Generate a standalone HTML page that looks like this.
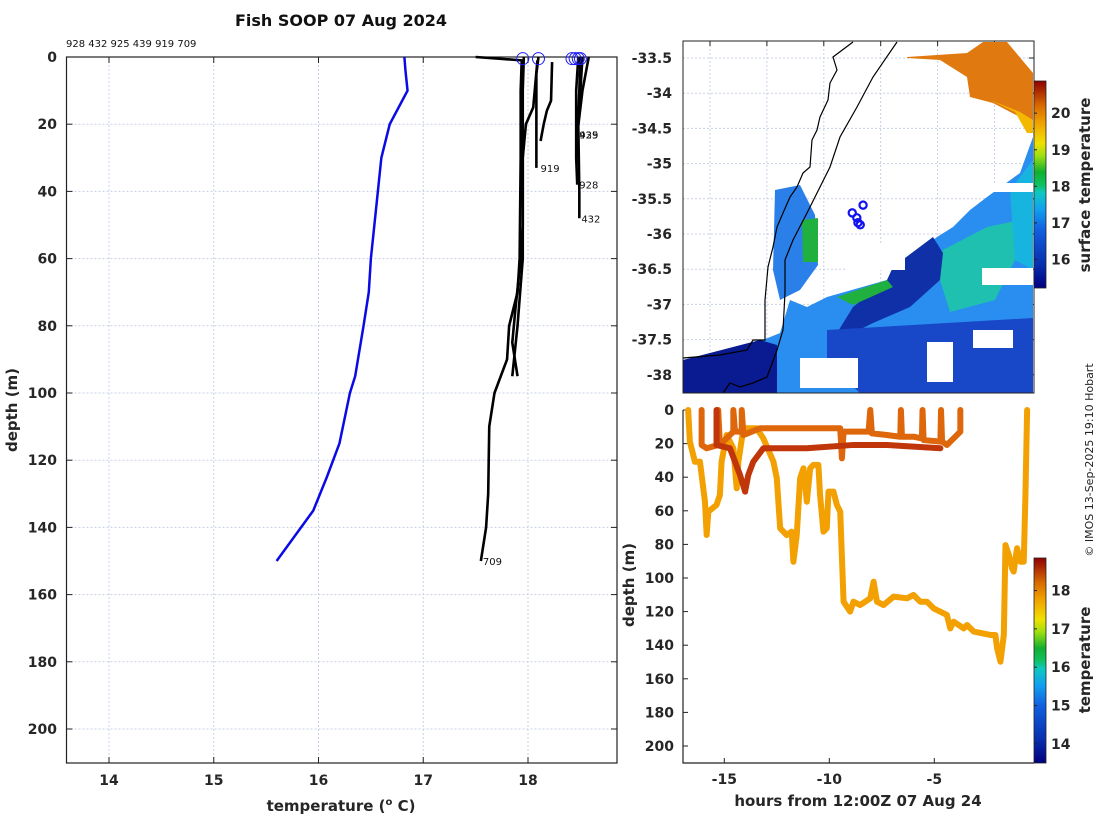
<!DOCTYPE html>
<html><head><meta charset="utf-8"><style>
body{margin:0;background:#fff;}
svg{display:block;font-family:"DejaVu Sans","Liberation Sans",sans-serif;}
.tk{font-size:14px;font-weight:bold;fill:#262626;}
.lb{font-size:15px;font-weight:bold;fill:#262626;}
.gr{stroke:#c8d0e8;stroke-width:1;stroke-dasharray:2,2;}
</style></head><body>
<svg id="fig" width="1100" height="820" viewBox="0 0 1100 820" xmlns="http://www.w3.org/2000/svg">
<defs>
<linearGradient id="jet1" x1="0" y1="1" x2="0" y2="0">
<stop offset="0" stop-color="#00007f"/><stop offset="0.12" stop-color="#0830b0"/><stop offset="0.28" stop-color="#1060e0"/><stop offset="0.38" stop-color="#10a0f0"/><stop offset="0.46" stop-color="#10c8c0"/><stop offset="0.5" stop-color="#10c060"/><stop offset="0.56" stop-color="#10b030"/><stop offset="0.64" stop-color="#a0e010"/><stop offset="0.7" stop-color="#f0e000"/><stop offset="0.8" stop-color="#f0a000"/><stop offset="0.88" stop-color="#d86a00"/><stop offset="1" stop-color="#900000"/>
</linearGradient>
</defs>
<text x="341" y="26" text-anchor="middle" font-size="16" font-weight="bold" fill="#111">Fish SOOP 07 Aug 2024</text>
<text x="66" y="47" font-size="10" fill="#111">928 432 925 439 919 709</text>
<g id="left"></g>
<g id="map"></g>
<g id="bot"></g>
<text transform="translate(1093,460) rotate(-90)" text-anchor="middle" font-size="11" fill="#222">© IMOS 13-Sep-2025 19:10 Hobart</text>
</svg>
<script>
// ---------- data: left profile plot ----------
const xTicksL = [14,15,16,17,18];
const yTicksL = [0,20,40,60,80,100,120,140,160,180,200];
const climTemp = [16.82,16.83,16.85,16.68,16.6,16.55,16.5,16.48,16.43,16.35,16.3,16.2,16.08,15.95,15.6];
const climDepth = [0,4,10,20,30,45,60,70,80,95,100,115,125,135,150];
const p709T = [17.5,17.94,17.93,17.93,17.92,17.9,17.82,17.8,17.68,17.63,17.62,17.6,17.55];
const p709D = [0,1,10,30,60,70,80,90,100,110,130,140,150];
const paT = [17.96,17.95,17.95,17.93,17.88,17.85,17.9];
const paD = [0,10,50,60,75,85,95];
const pbT = [18.09,18.05,17.98,17.95,17.95,17.9,17.85];
const pbD = [1,15,20,30,60,80,95];
const p919T = [18.1,18.08,18.08];
const p919D = [0,5,33];
const pcT = [18.23,18.22,18.18,18.15,18.12];
const pcD = [1.5,13,16,20,25];
const p928T = [18.48,18.46,18.46,18.47];
const p928D = [0,10,30,38];
const p432T = [18.5,18.48,18.49,18.49];
const p432D = [0,20,40,48];
const p439T = [18.52,18.5,18.48,18.47];
const p439D = [0,10,20,23];
const p925T = [18.58,18.52,18.47];
const p925D = [0,10,23];
const surfT = [17.95,18.1,18.42,18.45,18.48,18.5];
const profLabels = ['709','919','928','432','439','925'];
const profLabelT = [17.55,18.1,18.47,18.49,18.47,18.47];
const profLabelD = [150,33,38,48,23,23];

// ---------- data: map ----------
const lonTicks = [149,150,151,152,153,154];
const latTicks = [-33.5,-34,-34.5,-35,-35.5,-36,-36.5,-37,-37.5,-38];
const stationLon = [151.50,151.58,151.60,151.64,151.69];
const stationLat = [-35.70,-35.77,-35.84,-35.87,-35.59];
const sstTicks = [16,17,18,19,20];

// ---------- data: depth-time plot ----------
const hTicks = [-15,-10,-5];
const dTicks = [0,20,40,60,80,100,120,140,160,180,200];
const trATemp = 17.6;
const trAH = [-16.72,-16.64,-16.40,-16.16,-15.92,-15.84,-15.76,-15.37,-15.21,-15.13,-14.89,-14.57,-14.41,-14.33,-14.09,-13.46,-13.14,-12.66,-12.50,-12.34,-12.03,-11.79,-11.71,-11.55,-11.39,-11.23,-11.07,-10.91,-10.76,-10.52,-10.44,-10.28,-10.12,-10.04,-9.80,-9.64,-9.48,-9.32,-9.01,-8.85,-8.53,-8.05,-7.89,-7.73,-7.42,-6.94,-6.30,-5.99,-5.67,-5.35,-5.03,-4.40,-4.24,-4.08,-3.60,-3.44,-3.12,-2.33,-2.09,-2.01,-1.85,-1.69,-1.61,-1.45,-1.30,-1.22,-1.06,-0.90,-0.74,-0.66,-0.58];
const trAD = [0,18.8,30.8,30.8,54.6,74.4,60.5,56.5,50.6,30.8,14.9,22.8,46.6,30.8,10.9,10.9,16.9,30.8,40.7,70.4,74.4,72.4,90.3,74.4,40.7,34.7,54.6,34.7,32.7,32.7,50.6,72.4,70.4,48.6,48.6,56.5,60.5,114.1,120.0,114.1,116.1,112.1,102.2,114.1,116.1,111.1,112.1,110.1,114.1,114.1,118.1,122.0,130.0,126.0,130.0,128.0,131.9,133.9,133.9,141.9,149.8,133.9,80.4,86.3,94.2,96.2,82.3,90.3,90.3,50.6,0];
const trBTemp = 18.1;
const trBH = [-16.08,-16.08,-15.84,-15.29,-15.29,-15.21,-14.57,-14.57,-14.49,-14.17,-14.17,-14.09,-13.30,-11.71,-10.44,-9.48,-9.40,-9.32,-8.85,-8.13,-8.05,-7.97,-7.26,-6.62,-6.59,-6.54,-5.99,-5.59,-5.56,-5.51,-4.71,-4.68,-4.63,-4.40,-4.08,-3.76,-3.76];
const trBD = [0,20.8,22.8,20.8,0,20.8,12.9,0,12.9,12.9,0,14.9,10.9,10.9,10.9,10.9,28.8,12.9,12.9,12.9,0,13.9,14.9,15.9,0,15.9,15.9,16.9,0,17.9,18.8,0,18.8,20.8,16.9,12.9,0];
const trCTemp = 18.45;
const trCH = [-15.37,-15.37,-14.73,-14.25,-14.01,-13.86,-13.62,-13.14,-12.34,-11.07,-8.85,-7.26,-4.71];
const trCD = [0,20.8,22.8,38.7,48.6,38.7,30.8,22.8,22.8,22.8,20.8,20.8,22.8];
const tTicks = [14,15,16,17,18];

const NS='http://www.w3.org/2000/svg';
function mk(tag, attrs, parent){const e=document.createElementNS(NS,tag);for(const k in attrs)e.setAttribute(k,attrs[k]);parent.appendChild(e);return e;}

// ===== left plot =====
const L=document.getElementById('left');
const LX0=66.5,LX1=617,LY0=57,LY1=763;
const lx=t=>109+(t-14)*104.75, ly=d=>57+d*3.36;
xTicksL.forEach(t=>{const g=mk('line',{x1:lx(t),x2:lx(t),y1:LY0,y2:LY1,class:'gr'},L);


const tx=mk('text',{x:lx(t),y:785,'text-anchor':'middle',class:'tk'},L);tx.textContent=t;


mk('line',{x1:lx(t),x2:lx(t),y1:LY1,y2:LY1-6,stroke:'#222'},L);mk('line',{x1:lx(t),x2:lx(t),y1:LY0,y2:LY0+6,stroke:'#222'},L);});
yTicksL.forEach(d=>{const g=mk('line',{x1:LX0,x2:LX1,y1:ly(d),y2:ly(d),class:'gr'},L);


const tx=mk('text',{x:57,y:ly(d)+5,'text-anchor':'end',class:'tk'},L);tx.textContent=d;


mk('line',{x1:LX0,x2:LX0+6,y1:ly(d),y2:ly(d),stroke:'#222'},L);mk('line',{x1:LX1,x2:LX1-6,y1:ly(d),y2:ly(d),stroke:'#222'},L);});
const lbox=mk('rect',{x:LX0,y:LY0,width:LX1-LX0,height:LY1-LY0,fill:'none',stroke:'#222','stroke-width':1.2},L);


function line(T,D,fx,fy,par,attrs){return mk('polyline',Object.assign({points:T.map((t,i)=>fx(t)+','+fy(D[i])).join(' '),fill:'none'},attrs),par);}
const clim=line(climTemp,climDepth,lx,ly,L,{stroke:'#0a0ae6','stroke-width':2.5});


[[p709T,p709D],[paT,paD],[pbT,pbD],[p919T,p919D],[pcT,pcD],[p928T,p928D],[p432T,p432D],[p439T,p439D],[p925T,p925D]].forEach(p=>{
const e=line(p[0],p[1],lx,ly,L,{stroke:'#000','stroke-width':2.6,'stroke-linejoin':'round'});

});
surfT.forEach(t=>{const c=mk('circle',{cx:lx(t),cy:ly(0.5),r:6,fill:'none',stroke:'#1a1aff','stroke-width':1},L);

});
profLabels.forEach((s,i)=>{const tx=mk('text',{x:lx(profLabelT[i])+2,y:ly(profLabelD[i])+4,'font-size':10,fill:'#111'},L);tx.textContent=s;

});
let t1=mk('text',{x:341,y:811,'text-anchor':'middle',class:'lb'},L);t1.innerHTML='temperature (<tspan font-size="10" dy="-6">o</tspan><tspan dy="6"> C)</tspan>';


let t2=mk('text',{transform:'translate(17,410) rotate(-90)','text-anchor':'middle',class:'lb'},L);t2.textContent='depth (m)';



// ===== map =====
const M=document.getElementById('map');
const MX0=683,MX1=1034,MY0=41,MY1=393;
const mx=lo=>710+(lo-149)*56.9, my=la=>58+(-33.5-la)*70.4;
lonTicks.forEach(lo=>{mk('line',{x1:mx(lo),x2:mx(lo),y1:MY0,y2:MY1,class:'gr'},M);mk('line',{x1:mx(lo),x2:mx(lo),y1:MY0,y2:MY0+5,stroke:'#222'},M);
const tx=mk('text',{x:mx(lo),y:421,'text-anchor':'middle',class:'tk'},M);tx.textContent=lo;

});
latTicks.forEach(la=>{mk('line',{x1:MX0,x2:MX1,y1:my(la),y2:my(la),class:'gr'},M);mk('line',{x1:MX1,x2:MX1-5,y1:my(la),y2:my(la),stroke:'#222'},M);
const tx=mk('text',{x:672,y:my(la)+5,'text-anchor':'end',class:'tk'},M);tx.textContent=la;

});
function poly(pts,fill,name){const p=mk('polygon',{points:pts,fill:fill},M);return p;}
poly('907,57 967,53 983,42 1007,42 1033,73 1033,133 1027,133 1020,117 993,103 970,97 967,77 940,60 907,58','#e07a10','sst-warm-eddy');
poly('990,100 1020,112 1033,120 1033,133 1027,133 1015,112','#f5b800','sst-warm-edge');
poly('1033,133 1033,393 683,393 683,363 763,340 780,333 790,300 807,307 827,297 887,280 920,250 937,237 953,227 970,210 987,197 1020,173 1033,137','#2a8ef0','sst-cool-water');
poly('937,253 987,227 1020,220 1015,260 995,300 950,312 940,280','#20c0b0','sst-teal-patch');
poly('1010,190 1033,160 1033,270 1015,260','#18b4e0','sst-cyan-patch');
poly('893,267 933,237 943,253 940,280 910,307 873,323 853,333 837,333 853,307 887,280','#1030a8','sst-cold-streak');
poly('837,297 887,280 893,287 853,305','#20b040','sst-green-strip');
poly('827,330 1033,318 1033,393 860,393 827,362','#1848c8','sst-blue-band');
poly('683,360 760,340 777,345 777,393 683,393','#0a1a90','sst-shelf-cold');
poly('775,190 800,185 815,215 818,265 800,290 780,300 773,270','#2a80e8','sst-coastal-patch');
poly('802,220 818,218 818,262 803,262','#20b040','sst-coastal-green');
[[973,330,40,18],[927,342,26,40],[800,358,58,30],[982,268,51,17],[960,183,73,9],[845,245,60,25]].forEach(r=>{const e=mk('rect',{x:r[0],y:r[1],width:r[2],height:r[3],fill:'#fff'},M);

});
const coast=mk('polyline',{points:'853,42 833,57 837,70 830,83 828,100 820,117 817,130 812,140 810,167 803,173 797,187 790,197 783,213 777,227 773,247 768,267 765,300 765,340 753,340 747,350 720,355 683,358',fill:'none',stroke:'#000','stroke-width':1.2},M);


const shelf=mk('polyline',{points:'897,42 873,77 857,107 840,137 830,167 820,187 807,213 793,240 785,260 785,293 783,330 777,350 767,377 753,383 740,387 730,383 723,393',fill:'none',stroke:'#000','stroke-width':1.2},M);


stationLon.forEach((lo,i)=>{const c=mk('circle',{cx:mx(lo),cy:my(stationLat[i]),r:3.6,fill:'none',stroke:'#1010f0','stroke-width':2.2},M);

});
const mbox=mk('rect',{x:MX0,y:MY0,width:MX1-MX0,height:MY1-MY0,fill:'none',stroke:'#222','stroke-width':1},M);


const cb1=mk('rect',{x:1034,y:81,width:12,height:207,fill:'url(#jet1)',stroke:'#222','stroke-width':0.8},M);


const cy1=v=>288-(v-15.22)*(207/5.66);
sstTicks.forEach(v=>{mk('line',{x1:1034,x2:1037,y1:cy1(v),y2:cy1(v),stroke:'#222'},M);
const tx=mk('text',{x:1051,y:cy1(v)+5,class:'tk'},M);tx.textContent=v;

});
let t3=mk('text',{transform:'translate(1090,185) rotate(-90)','text-anchor':'middle',class:'lb'},M);t3.textContent='surface temperature';



// ===== bottom plot =====
const B=document.getElementById('bot');
const BX0=683,BX1=1034,BY0=410,BY1=763;
const bx=h=>724.3+(h+15)*21.0, by=d=>410+d*1.68;
mk('rect',{x:BX0,y:BY0,width:BX1-BX0,height:BY1-BY0,fill:'#fff'},B);
hTicks.forEach(h=>{mk('line',{x1:bx(h),x2:bx(h),y1:BY1,y2:BY1-5,stroke:'#222'},B);
const tx=mk('text',{x:bx(h),y:784,'text-anchor':'middle',class:'tk'},B);tx.textContent=h;

});
dTicks.forEach(d=>{mk('line',{x1:BX0,x2:BX0+5,y1:by(d),y2:by(d),stroke:'#222'},B);
const tx=mk('text',{x:674,y:by(d)+5,'text-anchor':'end',class:'tk'},B);tx.textContent=d;

});
function jet(v){const f=(v-13.5)/(18.85-13.5);const st=[[0,0,0,127],[0.15,10,40,200],[0.3,20,110,240],[0.42,10,200,220],[0.5,10,190,80],[0.58,60,200,20],[0.66,240,230,0],[0.75,245,170,0],[0.85,225,110,10],[0.93,190,50,10],[1,140,0,0]];
for(let i=1;i<st.length;i++){if(f<=st[i][0]){const a=st[i-1],b=st[i],u=(f-a[0])/(b[0]-a[0]);return 'rgb('+[1,2,3].map(k=>Math.round(a[k]+u*(b[k]-a[k]))).join(',')+')';}}return 'rgb(140,0,0)';}
[[trAH,trAD,trATemp],[trBH,trBD,trBTemp],[trCH,trCD,trCTemp]].forEach(tr=>{
const e=line(tr[0],tr[1],bx,by,B,{stroke:jet(tr[2]),'stroke-width':6,'stroke-linejoin':'round','stroke-linecap':'round'});

});
const bbox=mk('polyline',{points:`${BX0},${BY0} ${BX0},${BY1} ${BX1},${BY1}`,fill:'none',stroke:'#222','stroke-width':1.2},B);


const cb2=mk('rect',{x:1034,y:558,width:12,height:205,fill:'url(#jet1)',stroke:'#222','stroke-width':0.8},B);


const cy2=v=>763-(v-13.5)*(205/5.35);
tTicks.forEach(v=>{mk('line',{x1:1034,x2:1037,y1:cy2(v),y2:cy2(v),stroke:'#222'},B);
const tx=mk('text',{x:1051,y:cy2(v)+5,class:'tk'},B);tx.textContent=v;

});
let t4=mk('text',{transform:'translate(1090,660) rotate(-90)','text-anchor':'middle',class:'lb'},B);t4.textContent='temperature';


let t5=mk('text',{x:858,y:806,'text-anchor':'middle',class:'lb'},B);t5.textContent='hours from 12:00Z 07 Aug 24';


let t6=mk('text',{transform:'translate(634,585) rotate(-90)','text-anchor':'middle',class:'lb'},B);t6.textContent='depth (m)';


</script>
</body></html>
